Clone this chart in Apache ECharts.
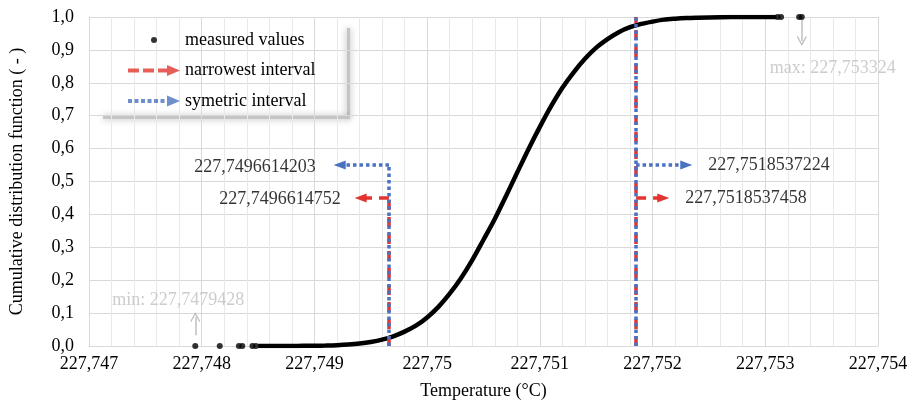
<!DOCTYPE html>
<html>
<head>
<meta charset="utf-8">
<script src="https://cdn.jsdelivr.net/npm/echarts@6/dist/echarts.min.js"></script>
<style>html,body{margin:0;padding:0;background:#fff;}#chart{width:915px;height:406px;}</style>
</head>
<body>
<div id="chart"></div>
<script>
// ---- data ----
const xMin = 227.747, xMax = 227.754, xStep = 0.001;
const yMin = 0, yMax = 1, yStep = 0.1;

// dense part of the measured CDF (temperature, cumulative probability)
const cdfX = [227.7485,227.7486,227.7487,227.7488,227.7489,227.7490,227.7491,227.7492,227.7493,227.7494,
  227.7495,227.7496,227.7497,227.7498,227.7499,227.7500,227.7501,227.7502,227.7503,227.7504,
  227.7505,227.7506,227.7507,227.7508,227.7509,227.7510,227.7511,227.7512,227.7513,227.7514,
  227.7515,227.7516,227.7517,227.7518,227.7519,227.7520,227.7521,227.7522,227.7523,227.7524,
  227.7526,227.7528,227.7530,227.7531];
const cdfY = [0.0000,0.0001,0.0001,0.0002,0.0005,0.0008,0.0015,0.0026,0.0045,0.0075,
  0.0122,0.0192,0.0294,0.0436,0.0618,0.0869,0.119,0.159,0.206,0.261,
  0.323,0.386,0.456,0.528,0.599,0.666,0.729,0.785,0.832,0.873,
  0.907,0.933,0.954,0.969,0.979,0.986,0.992,0.995,0.997,0.998,
  0.9995,0.9999,1.0,1.0];
// isolated measured points in the tails
const tailX = [227.7479428,227.74816,227.74833,227.74836,227.74845,227.74848,227.75311,227.75314,227.75330,227.753324];
const tailY = [0.0000,0.0001,0.0002,0.0002,0.0003,0.0003,0.9998,0.9999,1.0,1.0];

const minValue = 227.7479428, maxValue = 227.753324;
const narrowLow = 227.7496614752, narrowHigh = 227.7518537458;
const symLow = 227.7496614203, symHigh = 227.7518537224;
const narrowLevel = 0.45, symLevel = 0.55;
// arrow head positions (temperature) of the horizontal annotation arrows
const symLowHead = 227.749224, narrowLowHead = 227.749410;
const symHighHead = 227.752299, narrowHighHead = 227.752095;

const labelSymLow = '227,7496614203', labelNarrowLow = '227,7496614752';
const labelSymHigh = '227,7518537224', labelNarrowHigh = '227,7518537458';
const labelMin = 'min: 227,7479428', labelMax = 'max: 227,753324';
const legendNames = ['measured values', 'narrowest interval', 'symetric interval'];

// ---- chart ----
const FONT = '"Liberation Serif", "Times New Roman", serif';
const RED = '#e3342f', BLUE = '#4a72c0', GRAY = '#bfbfbf';
const chart = echarts.init(document.getElementById('chart'), null, {renderer: 'canvas'});

const fmtX = v => String(Math.round(v * 1000) / 1000).replace('.', ',');
const fmtY = v => v.toFixed(1).replace('.', ',');

const dotIcon = 'path://M0,0M52,12M23,6a3,3 0 1,0 6,0a3,3 0 1,0 -6,0z';
const redIcon = 'path://M0,0M52,12M0,4h11v4H0zM15,4h11v4H15zM30,4h9v4h-9zM39,0.5L52,6L39,11.5z';
const blueIcon = 'path://M0,0M52,12M0,4h4v4H0zM6.5,4h4v4h-4zM13,4h4v4h-4zM19.5,4h4v4h-4zM26,4h4v4h-4zM32.5,4h4v4h-4zM39,0.5L52,6L39,11.5z';
const chevron = 'path://M0,10L5,0L10,10L9,11L5,3L1,11Z';

const curve = cdfX.map((x, i) => [x, cdfY[i]]);
const tail = tailX.map((x, i) => [x, tailY[i]]);

function vertAndArrow(x, level, head, top) {
  return [
    [{coord: [x, 0]}, {coord: [x, top]}],
    [{coord: [x, level], symbol: 'none'}, {coord: [head, level], symbol: 'triangle'}]
  ];
}

const option = {
  animation: false,
  grid: {left: 88, right: 37, top: 17, bottom: 60},
  xAxis: {
    type: 'value', min: xMin, max: xMax, interval: xStep,
    name: 'Temperature (°C)', nameLocation: 'middle', nameGap: 36,
    nameTextStyle: {fontFamily: FONT, fontSize: 18, color: '#000'},
    axisLine: {show: true, lineStyle: {color: '#d9d9d9', width: 1}},
    axisTick: {show: false},
    axisLabel: {formatter: fmtX, fontFamily: FONT, fontSize: 18, color: '#000', margin: 9},
    splitLine: {show: true, lineStyle: {color: '#d9d9d9', width: 1}},
    minorTick: {show: false, splitNumber: 5},
    minorSplitLine: {show: true, lineStyle: {color: '#e9e9e9', width: 1}}
  },
  yAxis: {
    type: 'value', min: yMin, max: yMax, interval: yStep,
    name: 'Cumulative distribution function ( - )', nameLocation: 'middle', nameGap: 63,
    nameTextStyle: {fontFamily: FONT, fontSize: 18, color: '#000'},
    axisLine: {show: true, lineStyle: {color: '#d9d9d9', width: 1}},
    axisTick: {show: false},
    axisLabel: {formatter: fmtY, fontFamily: FONT, fontSize: 18, color: '#000', margin: 15},
    splitLine: {show: true, lineStyle: {color: '#d9d9d9', width: 1}}
  },
  legend: {
    orient: 'vertical', left: 128, top: 31, padding: 0,
    itemWidth: 52, itemHeight: 12, itemGap: 12.5,
    textStyle: {fontFamily: FONT, fontSize: 18, color: '#000', lineHeight: 18},
    data: [
      {name: legendNames[0], icon: dotIcon, itemStyle: {color: '#000'}},
      {name: legendNames[1], icon: redIcon, itemStyle: {color: RED}},
      {name: legendNames[2], icon: blueIcon, itemStyle: {color: BLUE}}
    ],
    selectedMode: false
  },
  graphic: [
    {type: 'rect', shape: {x: 347, y: 28, width: 3, height: 90}, style: {fill: '#c4c4c4', shadowBlur: 7, shadowColor: 'rgba(0,0,0,0.35)'}, z: 0},
    {type: 'rect', shape: {x: 103, y: 116, width: 247, height: 3}, style: {fill: '#c4c4c4', shadowBlur: 7, shadowColor: 'rgba(0,0,0,0.35)'}, z: 0}
  ],
  series: [
    {
      name: 'curve', type: 'line', data: curve, showSymbol: false, smooth: 0.3,
      lineStyle: {color: '#000', width: 4.5}, z: 3, silent: true
    },
    {
      name: legendNames[0], type: 'scatter', data: tail, symbolSize: 6,
      itemStyle: {color: '#000'}, z: 3, silent: true,
      markLine: {
        silent: true, animation: false, label: {show: false},
        symbol: ['none', chevron], symbolSize: [10, 10],
        lineStyle: {color: GRAY, width: 1.5, type: 'solid'},
        data: [
          [{coord: [minValue, 0.033]}, {coord: [minValue, 0.088]}],
          [{coord: [maxValue, 0.991]}, {coord: [maxValue, 0.927]}]
        ]
      }
    },
    {
      name: legendNames[1], type: 'scatter', data: [], itemStyle: {color: RED}, z: 4,
      markLine: {
        silent: true, animation: false, label: {show: false},
        symbol: ['none', 'none'], symbolSize: [9, 12],
        lineStyle: {color: RED, width: 3.5, type: [10, 7]},
        data: vertAndArrow(narrowLow, narrowLevel, narrowLowHead, narrowLevel)
          .concat(vertAndArrow(narrowHigh, narrowLevel, narrowHighHead, 1))
      }
    },
    {
      name: legendNames[2], type: 'scatter', data: [], itemStyle: {color: BLUE}, z: 5,
      markLine: {
        silent: true, animation: false, label: {show: false},
        symbol: ['none', 'none'], symbolSize: [9, 12],
        lineStyle: {color: BLUE, width: 3.5, type: [3.5, 3]},
        data: vertAndArrow(symLow, symLevel, symLowHead, symLevel)
          .concat(vertAndArrow(symHigh, symLevel, symHighHead, 1))
      }
    },
    {
      name: 'annotations', type: 'scatter', symbolSize: 0, silent: true, z: 6,
      label: {show: true, fontFamily: FONT, fontSize: 18, color: '#000'},
      data: [
        {value: [symLowHead, symLevel], label: {formatter: labelSymLow, position: 'left', distance: 24, offset: [0, 2]}},
        {value: [narrowLowHead, narrowLevel], label: {formatter: labelNarrowLow, position: 'left', distance: 20, offset: [0, 1]}},
        {value: [symHighHead, symLevel], label: {formatter: labelSymHigh, position: 'right', distance: 22}},
        {value: [narrowHighHead, narrowLevel], label: {formatter: labelNarrowHigh, position: 'right', distance: 22}},
        {value: [minValue, 0.14], label: {formatter: labelMin, position: 'inside', offset: [-17, 0], color: GRAY}},
        {value: [maxValue, 0.848], label: {formatter: labelMax, position: 'inside', offset: [31, 1], color: GRAY}}
      ]
    }
  ]
};
chart.setOption(option);
</script>
</body>
</html>
